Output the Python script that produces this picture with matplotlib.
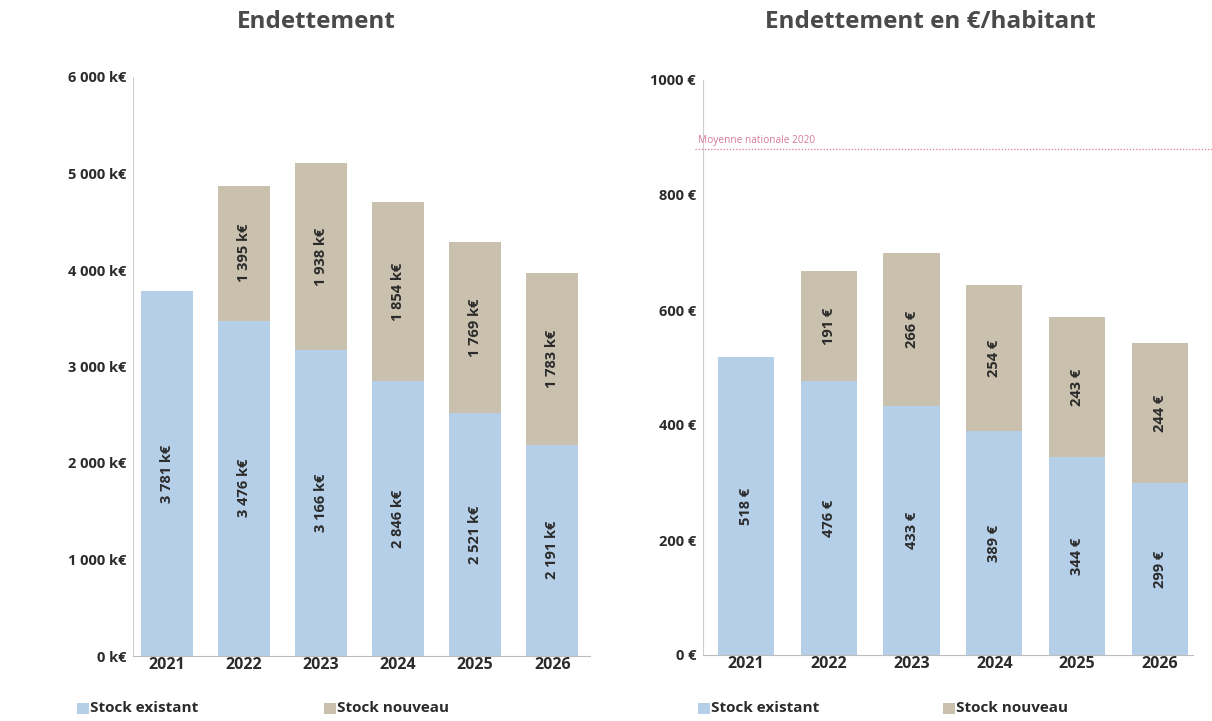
import matplotlib
matplotlib.use("Agg")
import matplotlib.pyplot as plt
from matplotlib.patches import Rectangle
import matplotlib.transforms as mtransforms

plt.rcParams['font.family'] = ['Open Sans', 'DejaVu Sans']

# --- data ---
years = ["2021", "2022", "2023", "2024", "2025", "2026"]
stock_existant_ke = [3781, 3476, 3166, 2846, 2521, 2191]
stock_nouveau_ke = [0, 1395, 1938, 1854, 1769, 1783]
stock_existant_hab = [518, 476, 433, 389, 344, 299]
stock_nouveau_hab = [0, 191, 266, 254, 243, 244]
moyenne_nationale = 880
yticks_ke = [0, 1000, 2000, 3000, 4000, 5000, 6000]
yticks_hab = [0, 200, 400, 600, 800, 1000]

BLUE = "#b5cfe8"
BEIGE = "#c9c0ae"
TXT = "#2b2b2b"
TITLE = "#4a4a4a"
PINK = "#d77a95"


def fmt_ke(v):
    return f"{v:,}".replace(",", " ") + " k€"


def fmt_hab(v):
    return f"{v} €"


fig = plt.figure(figsize=(12.12, 7.21), dpi=100)
W, H = 1212, 721


def px_axes(x0, x1, ytop, ybot):
    return fig.add_axes([x0 / W, 1 - ybot / H, (x1 - x0) / W, (ybot - ytop) / H])


def style(ax):
    for s in ("top", "right"):
        ax.spines[s].set_visible(False)
    ax.spines["left"].set_color("#cfcfcf")
    ax.spines["bottom"].set_color("#bdbdbd")
    ax.tick_params(length=0)
    ax.tick_params(axis="y", pad=5, labelsize=10.5, labelcolor=TXT)
    ax.tick_params(axis="x", pad=1, labelsize=11.5, labelcolor=TXT)
    for lab in ax.get_xticklabels() + ax.get_yticklabels():
        lab.set_fontweight("bold")


def draw(ax, existant, nouveau, width, fmt, yticks, fontsize):
    x = list(range(len(years)))
    ax.bar(x, existant, width=width, color=BLUE, linewidth=0)
    ax.bar(x, nouveau, width=width, bottom=existant, color=BEIGE, linewidth=0)
    for xi, e, n in zip(x, existant, nouveau):
        ax.text(xi, e / 2, fmt(e), rotation=90, ha="center", va="center",
                fontsize=fontsize, fontweight="bold", color=TXT)
        if n > 0:
            ax.text(xi, e + n / 2, fmt(n), rotation=90, ha="center", va="center",
                    fontsize=fontsize, fontweight="bold", color=TXT)
    ax.set_xticks(x)
    ax.set_xticklabels(years)
    ax.set_yticks(yticks)
    ax.set_ylim(yticks[0], yticks[-1])


# --- left chart: total debt ---
ax1 = px_axes(133, 590, 77, 656)
draw(ax1, stock_existant_ke, stock_nouveau_ke, 0.67, fmt_ke, yticks_ke, 10.5)
ax1.set_yticklabels([fmt_ke(v) for v in yticks_ke])
ax1.set_xlim(-0.44, 5.49)
style(ax1)

# --- right chart: debt per inhabitant ---
ax2 = px_axes(703, 1193, 80, 655)
draw(ax2, stock_existant_hab, stock_nouveau_hab, 0.68, fmt_hab, yticks_hab, 10.5)
ax2.set_yticklabels([fmt_hab(v) for v in yticks_hab])
ax2.set_xlim(-0.52, 5.4)
style(ax2)

trans = mtransforms.blended_transform_factory(ax2.transAxes, ax2.transData)
ax2.plot([-0.017, 1.04], [moyenne_nationale, moyenne_nationale], transform=trans,
         color=PINK, linestyle=(0, (1, 1.5)), linewidth=0.9, clip_on=False)
ax2.text(-0.01, moyenne_nationale + 6, "Moyenne nationale 2020", transform=trans,
         color=PINK, fontsize=7.3, ha="left", va="bottom")

# --- titles ---
fig.text(316 / W, 1 - 22 / H, "Endettement", ha="center", va="center",
         fontsize=17.5, fontweight="bold", color=TITLE)
fig.text(930 / W, 1 - 22 / H, "Endettement en €/habitant", ha="center", va="center",
         fontsize=17.5, fontweight="bold", color=TITLE)


# --- legends ---
def legend_item(x, label, color):
    fig.patches.append(Rectangle((x / W, 1 - 714 / H), 12 / W, 11 / H,
                                 transform=fig.transFigure, color=color, lw=0))
    fig.text((x + 13) / W, 1 - 708 / H, label, ha="left", va="center",
             fontsize=11, fontweight="bold", color=TXT)


legend_item(77, "Stock existant", BLUE)
legend_item(324, "Stock nouveau", BEIGE)
legend_item(698, "Stock existant", BLUE)
legend_item(943, "Stock nouveau", BEIGE)

fig.savefig("out.png", dpi=100, facecolor="white")
